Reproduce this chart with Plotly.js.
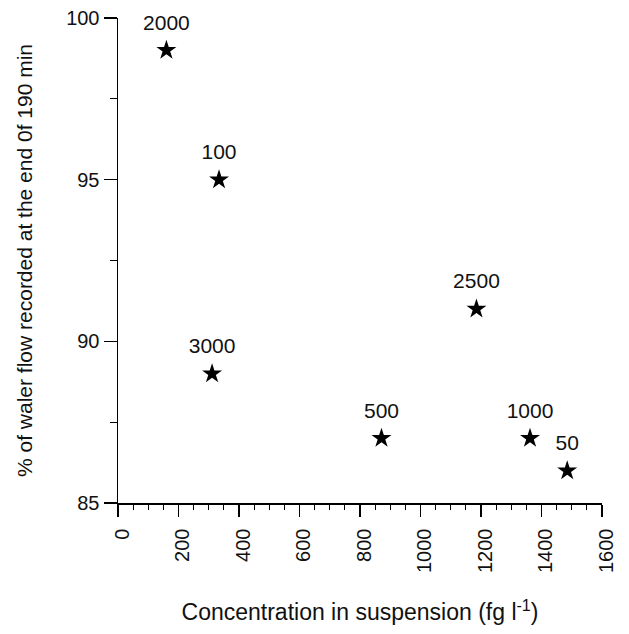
<!DOCTYPE html>
<html>
<head>
<meta charset="utf-8">
<script src="https://cdn.plot.ly/plotly-3.0.1.min.js"></script>
<style>html,body{margin:0;padding:0;background:#fff;}#chart{width:629px;height:634px;}</style>
</head>
<body>
<div id="chart"></div>
<script>
// Data
const concentration = [160, 334, 311, 871, 1185, 1362, 1485];
const waterFlowPct = [99, 95, 89, 87, 91, 87, 86];
const pointLabels = ["2000", "100", "3000", "500", "2500", "1000", "50"];
const xTickValues = [0, 200, 400, 600, 800, 1000, 1200, 1400, 1600];
const yTickValues = [85, 90, 95, 100];

const font = "Liberation Sans, Arial, Helvetica, sans-serif";

// Invisible, larger markers carry the labels so the text sits a little above each star
const labelTrace = {
  x: concentration,
  y: waterFlowPct,
  text: pointLabels,
  mode: "markers+text",
  type: "scatter",
  textposition: "top center",
  textfont: {family: font, size: 21, color: "#111"},
  marker: {symbol: "circle", size: 23, color: "rgba(0,0,0,0)", line: {width: 0}},
  cliponaxis: false,
  hoverinfo: "none"
};

const starTrace = {
  x: concentration,
  y: waterFlowPct,
  mode: "markers",
  type: "scatter",
  marker: {symbol: "star", size: 15, color: "#000", line: {width: 0}},
  cliponaxis: false,
  hoverinfo: "none"
};

const layout = {
  width: 629,
  height: 634,
  margin: {l: 118, r: 27, t: 18, b: 131},
  paper_bgcolor: "#fff",
  plot_bgcolor: "#fff",
  showlegend: false,
  font: {family: font, color: "#111"},
  xaxis: {
    range: [0, 1600],
    tickvals: xTickValues,
    ticktext: xTickValues.map(String),
    tickangle: -90,
    ticks: "outside",
    ticklen: 12,
    tickwidth: 1.5,
    tickcolor: "#000",
    ticklabelshift: 4,
    ticklabelstandoff: 4,
    showline: true,
    linecolor: "#000",
    linewidth: 1.5,
    showgrid: false,
    zeroline: false,
    tickfont: {family: font, size: 20, color: "#111"},
    minor: {dtick: 50, ticks: "outside", ticklen: 5, tickcolor: "#000", tickwidth: 1, showgrid: false},
    title: {text: "Concentration in suspension (fg l<sup>-1</sup>)", font: {family: font, size: 23, color: "#111"}, standoff: 32}
  },
  yaxis: {
    range: [85, 100],
    tickvals: yTickValues,
    ticktext: yTickValues.map(String),
    ticks: "outside",
    ticklen: 13,
    tickwidth: 1.5,
    tickcolor: "#000",
    showline: true,
    linecolor: "#000",
    linewidth: 1.5,
    showgrid: false,
    zeroline: false,
    tickfont: {family: font, size: 20, color: "#111"},
    minor: {dtick: 2.5, ticks: "outside", ticklen: 7, tickcolor: "#000", tickwidth: 1, showgrid: false},
    title: {text: "% of waler flow recorded at the end 0f 190 min", font: {family: font, size: 21, color: "#111"}, standoff: 28}
  }
};

Plotly.newPlot("chart", [labelTrace, starTrace], layout, {displayModeBar: false, staticPlot: true});
</script>
</body>
</html>
